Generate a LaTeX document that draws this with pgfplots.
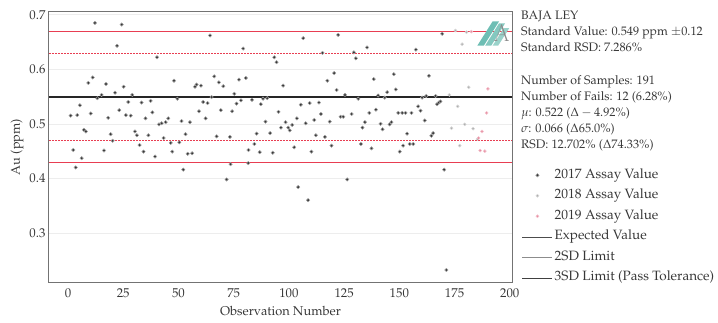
\documentclass[border=0pt]{standalone}
\usepackage[T1]{fontenc}
\usepackage{mathpazo}
\usepackage{pgfplots}
\usepackage{pgfplotstable}
\pgfplotsset{compat=1.18}
\definecolor{limred}{RGB}{232,62,82}
\definecolor{dot17}{RGB}{55,55,55}
\definecolor{dot18}{RGB}{175,175,175}
\definecolor{dot19}{RGB}{232,140,160}
\definecolor{txt}{RGB}{55,55,55}
\definecolor{logoteal}{RGB}{110,190,180}

\pgfplotstableread{
x y
1.2 0.515
2.4 0.452
3.5 0.420
4.2 0.516
5.4 0.534
6.2 0.437
7.2 0.489
8.1 0.486
9.2 0.575
10.3 0.519
11.2 0.585
12.2 0.685
13.3 0.547
15.2 0.553
16.3 0.451
17.2 0.573
18.2 0.511
19.3 0.481
20.2 0.469
21.3 0.557
22.2 0.643
23.2 0.525
24.3 0.682
25.2 0.568
26.2 0.516
27.3 0.540
28.4 0.515
29.1 0.553
30.3 0.486
31.2 0.479
32.4 0.461
33.3 0.539
34.2 0.449
35.1 0.510
36.4 0.479
37.4 0.542
38.2 0.521
39.4 0.440
40.3 0.622
41.2 0.499
42.4 0.501
43.3 0.474
44.2 0.503
45.4 0.510
46.5 0.465
47.2 0.449
48.0 0.579
49.5 0.546
50.4 0.466
51.4 0.505
52.2 0.416
53.2 0.481
54.2 0.445
55.2 0.503
56.2 0.446
57.5 0.568
58.2 0.572
59.3 0.523
60.2 0.570
61.2 0.540
62.3 0.510
63.2 0.538
64.3 0.662
65.0 0.549
66.2 0.587
67.3 0.477
68.3 0.576
69.2 0.525
70.3 0.569
71.8 0.398
73.3 0.476
73.6 0.426
74.3 0.523
75.3 0.555
76.3 0.537
77.4 0.581
78.3 0.543
79.3 0.638
80.5 0.584
81.6 0.428
81.7 0.452
83.3 0.544
84.4 0.463
85.4 0.482
86.8 0.448
87.3 0.536
88.3 0.546
89.4 0.504
90.2 0.547
91.5 0.483
92.7 0.447
93.4 0.622
94.4 0.613
95.3 0.522
96.4 0.493
97.4 0.570
98.5 0.503
99.7 0.493
100.4 0.488
101.5 0.498
102.4 0.457
103.6 0.510
104.2 0.384
105.4 0.535
106.5 0.657
107.6 0.501
108.7 0.360
109.4 0.538
110.2 0.449
111.5 0.507
112.2 0.479
113.6 0.539
114.5 0.518
115.2 0.630
116.3 0.476
117.4 0.579
118.5 0.504
119.3 0.460
120.5 0.593
121.6 0.562
122.3 0.663
123.4 0.513
124.6 0.513
125.4 0.553
126.4 0.398
128.4 0.518
129.4 0.631
130.3 0.620
131.4 0.546
132.6 0.463
133.3 0.493
134.4 0.503
135.4 0.640
136.4 0.520
137.4 0.455
138.4 0.582
139.4 0.526
140.4 0.552
141.5 0.500
142.4 0.490
143.4 0.548
144.5 0.558
145.6 0.499
146.4 0.503
147.5 0.591
148.4 0.563
149.5 0.520
150.2 0.449
151.3 0.520
151.7 0.460
152.8 0.520
153.5 0.482
154.7 0.463
155.5 0.520
156.3 0.463
157.5 0.636
158.5 0.532
159.6 0.524
160.3 0.548
161.5 0.506
162.2 0.551
163.4 0.588
164.5 0.478
165.3 0.483
166.4 0.551
167.1 0.536
167.9 0.539
168.6 0.541
169.4 0.665
170.3 0.416
171.3 0.232
}\dataA

\pgfplotstableread{
x y
172.6 0.553
173.6 0.492
175.4 0.671
176.4 0.532
177.3 0.460
178.4 0.646
179.6 0.499
180.4 0.668
181.4 0.567
183.4 0.491
185.4 0.472
}\dataB

\pgfplotstableread{
x y
182.6 0.669
185.9 0.474
186.6 0.451
187.4 0.486
188.7 0.450
189.5 0.520
190.1 0.564
}\dataC

\pgfplotstableread{
x solidlo solidhi dashlo dashhi mean
-8.6 0.429 0.669 0.469 0.629 0.549
201 0.429 0.669 0.469 0.629 0.549
}\limtab

\begin{document}
\begin{tikzpicture}
\path[use as bounding box] (-49pt,-40pt) rectangle (669pt,282pt);
\begin{axis}[
  name=ax,
  at={(0pt,0pt)}, anchor=south west,
  scale only axis,
  width=463pt, height=270pt,
  xmin=-8.6, xmax=201,
  ymin=0.21, ymax=0.705,
  xtick={0,25,...,200},
  ytick={0.3,0.4,0.5,0.6,0.7},
  yticklabel style={/pgf/number format/fixed, /pgf/number format/precision=1},
  xticklabel style={yshift=-3pt},
  /pgf/number format/assume math mode=true,
  major tick length=0pt,
  tick label style={text=txt, font=\fontsize{12.8}{14}\selectfont},
  label style={text=txt, font=\fontsize{12.8}{14}\selectfont},
  axis line style={black!55, line width=1pt},
  ymajorgrids,
  grid style={black!7, line width=0.6pt},
  xlabel={Observation Number},
  ylabel={Au (ppm)},
  xlabel style={yshift=-2pt},
  ylabel style={yshift=-1pt},
  legend image code/.code={\draw[mark repeat=2,mark phase=2,#1] plot coordinates {(0pt,0pt) (15pt,0pt) (30pt,0pt)};},
  legend style={at={(1,0.433)}, anchor=north west, xshift=7pt, draw=none, fill=none,
     font=\fontsize{13.5}{15}\selectfont, text=txt,
     row sep=4.5pt,
     nodes={inner sep=2pt, text height=9pt, text depth=3pt}},
  legend cell align=left,
]
\addplot[forget plot, draw=limred, line width=1.1pt] table[x=x, y=solidlo] {\limtab};
\addplot[forget plot, draw=limred, line width=1pt, dash pattern=on 1.6pt off 1.4pt] table[x=x, y=dashlo] {\limtab};
\addplot[forget plot, draw=black!85, line width=1.2pt] table[x=x, y=mean] {\limtab};
\addplot[forget plot, draw=limred, line width=1pt, dash pattern=on 1.6pt off 1.4pt] table[x=x, y=dashhi] {\limtab};
\addplot[forget plot, draw=limred, line width=1.1pt] table[x=x, y=solidhi] {\limtab};

\addplot[forget plot, only marks, mark=*, mark size=1.7pt, mark options={fill=dot17, draw=black!35, line width=0.5pt}] table[x=x,y=y] {\dataA};
\addplot[forget plot, only marks, mark=*, mark size=1.5pt, mark options={fill=dot18, draw=black!15, line width=0.5pt}] table[x=x,y=y] {\dataB};
\addplot[forget plot, only marks, mark=*, mark size=1.5pt, mark options={fill=dot19, draw=dot19!50, line width=0.5pt}] table[x=x,y=y] {\dataC};

\addlegendimage{only marks, mark=*, mark size=1.7pt, mark options={fill=dot17, draw=black!35, line width=0.5pt}}
\addlegendentry{2017 Assay Value}
\addlegendimage{only marks, mark=*, mark size=1.5pt, mark options={fill=dot18, draw=black!15, line width=0.5pt}}
\addlegendentry{2018 Assay Value}
\addlegendimage{only marks, mark=*, mark size=1.5pt, mark options={fill=dot19, draw=dot19!50, line width=0.5pt}}
\addlegendentry{2019 Assay Value}
\addlegendimage{black!70, line width=0.5pt}
\addlegendentry{Expected Value}
\addlegendimage{black!45, line width=0.5pt}
\addlegendentry{2SD Limit}
\addlegendimage{black!75, line width=0.5pt}
\addlegendentry{3SD Limit (Pass Tolerance)}

% logo
\fill[logoteal] (rel axis cs:0.925,0.875) -- (rel axis cs:0.939,0.875) -- (rel axis cs:0.972,0.965) -- (rel axis cs:0.958,0.965) -- cycle;
\fill[logoteal!85] (rel axis cs:0.942,0.875) -- (rel axis cs:0.955,0.875) -- (rel axis cs:0.985,0.958) -- (rel axis cs:0.972,0.958) -- cycle;
\fill[logoteal!70] (rel axis cs:0.958,0.875) -- (rel axis cs:0.970,0.875) -- (rel axis cs:0.994,0.940) -- (rel axis cs:0.982,0.940) -- cycle;
\node[text=black!45, font=\sffamily\bfseries\fontsize{26}{26}\selectfont] at (rel axis cs:0.978,0.922) {A};
\end{axis}
\node[anchor=north west, inner sep=0pt, align=left, text=txt, font=\fontsize{12.3}{16.1}\selectfont] at ([xshift=9pt,yshift=1pt]ax.north east)
{BAJA LEY\\
Standard Value: 0.549 ppm $\pm$0.12\\
Standard RSD: 7.286\%\\[16.1pt]
Number of Samples: 191\\
Number of Fails: 12 (6.28\%)\\
$\mu$: 0.522 ($\Delta-4.92$\%)\\
$\sigma$: 0.066 ($\Delta$65.0\%)\\
RSD: 12.702\% ($\Delta$74.33\%)};
\end{tikzpicture}
\end{document}
